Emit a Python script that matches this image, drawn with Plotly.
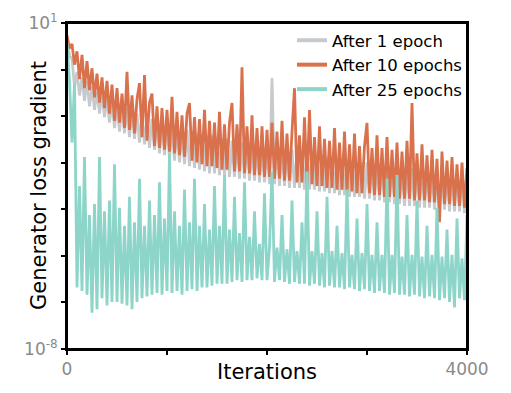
import plotly.graph_objects as go

# Iteration index of each sample (every 25 iterations, 0..4000)
iterations = list(range(0, 4001, 25))

# log10 of the generator loss gradient
log_grad_after_1_epoch = [
    0.60, 0.10, 0.00, -0.75, -0.35, -1.00, -0.50, -1.15, -0.60, -1.30,
    -0.75, -1.40, -0.90, -1.50, -0.95, -1.60, -1.10, -1.75, -1.15, -1.90,
    -1.25, -2.00, -1.30, -2.05, -1.35, -2.15, -1.40, -2.20, -1.50, -2.30,
    -1.55, -2.35, -1.60, -2.45, -1.65, -2.50, -1.70, -2.60, -1.75, -2.65,
    -1.80, -2.75, -1.85, -2.80, -1.90, -2.85, -1.95, -2.90, -1.95, -2.95,
    -2.00, -3.00, -2.05, -3.05, -2.05, -3.10, -2.10, -3.15, -2.10, -3.15,
    -2.15, -3.20, -2.20, -3.20, -2.20, -3.25, -2.25, -3.25, -2.25, -3.30,
    -2.30, -3.30, -2.30, -3.35, -2.35, -3.35, -2.35, -3.40, -2.40, -3.40,
    -2.40, -3.45, -0.52, -3.45, -2.45, -3.50, -2.45, -3.50, -2.50, -3.55,
    -2.50, -3.55, -2.55, -3.55, -2.55, -3.60, -2.60, -3.60, -2.60, -3.60,
    -2.65, -3.65, -2.65, -3.65, -2.70, -3.70, -2.70, -3.70, -2.75, -3.75,
    -2.75, -3.75, -2.80, -3.80, -2.80, -3.80, -2.85, -3.80, -2.85, -3.85,
    -2.85, -3.85, -2.90, -3.90, -2.90, -3.90, -2.90, -3.95, -2.95, -3.95,
    -2.95, -4.00, -2.95, -4.00, -3.00, -4.05, -3.00, -4.05, -3.00, -4.05,
    -3.05, -4.10, -3.05, -4.10, -3.05, -4.10, -3.10, -4.15, -3.10, -4.15,
    -3.10, -4.15, -3.15, -4.20, -3.15, -4.20, -3.15, -4.20, -3.20, -4.25,
    -3.20,
]

log_grad_after_10_epochs = [
    0.66, 0.30, 0.42, -0.15, 0.22, -0.55, 0.12, -0.80, -0.05, -0.85,
    -0.25, -1.05, -0.40, -1.20, -0.50, -1.35, -0.60, -1.50, -0.70, -1.70,
    -0.80, -1.75, -0.95, -1.90, -0.35, -1.95, -1.00, -2.05, -1.10, -0.66,
    -2.15, -0.44, -2.25, -1.20, -0.95, -2.40, -1.30, -2.45, -1.35, -2.50,
    -1.40, -2.55, -1.04, -2.60, -1.45, -2.65, -1.55, -2.70, -1.50, -1.21,
    -2.80, -1.60, -2.85, -1.65, -2.90, -1.40, -2.95, -1.70, -2.95, -1.75,
    -3.00, -1.45, -3.05, -1.80, -3.05, -1.75, -1.21, -3.10, -1.80, -3.10,
    -0.22, -3.15, -1.85, -3.15, -1.55, -3.20, -1.90, -3.20, -1.85, -3.25,
    -1.95, -3.25, -1.75, -3.30, -2.00, -3.30, -1.70, -3.35, -2.05, -3.35,
    -2.00, -0.80, -3.40, -2.10, -3.40, -1.60, -3.45, -1.40, -3.45, -2.15,
    -3.50, -1.85, -3.50, -2.20, -3.55, -2.25, -3.55, -1.90, -3.60, -2.30,
    -3.60, -2.00, -3.65, -2.35, -3.65, -2.05, -3.70, -2.40, -3.70, -2.40,
    -1.76, -3.70, -2.45, -3.75, -2.10, -3.75, -2.45, -3.80, -2.15, -3.80,
    -2.50, -3.80, -2.30, -3.85, -2.55, -3.85, -2.25, -3.85, -1.21, -3.90,
    -2.60, -3.90, -2.35, -3.90, -2.65, -3.95, -2.50, -3.95, -2.75, -4.50,
    -2.55, -4.00, -2.80, -4.00, -2.70, -4.05, -2.90, -4.05, -2.85, -4.10,
    -3.00,
]

log_grad_after_25_epochs = [
    0.45, -0.60, -2.30, -0.66, -6.30, -3.50, -6.40, -2.70, -6.50, -4.30,
    -7.00, -4.00, -6.90, -2.70, -6.60, -4.20, -6.80, -3.90, -6.70, -2.90,
    -6.70, -4.10, -6.75, -4.60, -6.80, -3.80, -6.90, -4.50, -6.70, -3.30,
    -6.60, -4.60, -6.55, -3.90, -6.50, -4.30, -6.45, -3.40, -6.50, -4.40,
    -6.40, -2.60, -6.45, -4.20, -6.40, -4.60, -6.50, -3.60, -6.40, -4.50,
    -6.35, -3.30, -6.40, -4.60, -6.30, -4.00, -6.30, -4.70, -6.25, -3.50,
    -6.20, -4.60, -6.20, -3.20, -6.20, -4.70, -6.15, -3.80, -6.10, -4.80,
    -6.15, -3.40, -6.10, -4.90, -6.10, -4.20, -6.05, -5.10, -6.10, -3.70,
    -6.10, -5.20, -3.10, -6.15, -5.20, -6.10, -4.30, -6.15, -5.25, -6.20,
    -3.90, -6.15, -5.30, -6.20, -4.50, -6.20, -3.10, -6.25, -5.30, -6.20,
    -4.20, -6.25, -5.35, -6.30, -3.80, -6.25, -5.30, -6.30, -4.60, -6.30,
    -5.35, -6.35, -3.60, -6.30, -5.40, -6.35, -4.40, -6.40, -5.35, -6.35,
    -4.00, -6.40, -5.40, -6.45, -4.50, -6.40, -5.40, -6.45, -3.30, -6.50,
    -5.40, -6.45, -3.20, -6.50, -5.45, -6.50, -4.30, -6.55, -5.40, -6.50,
    -3.90, -6.55, -5.45, -6.60, -4.60, -6.55, -5.40, -6.60, -4.10, -6.65,
    -5.45, -6.60, -4.70, -6.70, -5.40, -6.85, -4.40, -6.60, -5.50, -6.65,
    -4.30,
]

series_names = ["After 1 epoch", "After 10 epochs", "After 25 epochs"]
series_colors = ["#c6cacd", "#d9724c", "#8dd5c9"]
series_logs = [log_grad_after_1_epoch, log_grad_after_10_epochs, log_grad_after_25_epochs]

x_tick_values = [0, 1000, 2000, 3000, 4000]
x_tick_labels = ["0", "", "", "", "4000"]
y_tick_exponents = [-8, -8 + 9 / 7, -8 + 18 / 7, -8 + 27 / 7, -8 + 36 / 7, -8 + 45 / 7, -8 + 54 / 7, 1]
y_tick_labels = ["10<sup>-8</sup>", "", "", "", "", "", "", "10<sup>1</sup>"]

FONT = "'DejaVu Sans', sans-serif"
GREY = "#8a8a8a"

fig = go.Figure()
for name, color, logs in zip(series_names, series_colors, series_logs):
    fig.add_trace(go.Scatter(
        x=iterations,
        y=[10 ** v for v in logs],
        mode="lines",
        name=name,
        showlegend=False,
        line=dict(color=color, width=2.8),
    ))
# legend keys (short thick sample lines, as in the reference)
for name, color in zip(series_names, series_colors):
    fig.add_trace(go.Scatter(
        x=[None], y=[None], mode="lines", name=name,
        line=dict(color=color, width=4),
        showlegend=True,
    ))

axis_common = dict(
    ticks="outside",
    ticklen=4,
    tickwidth=1.5,
    tickcolor="black",
    tickfont=dict(family=FONT, size=17, color=GREY),
    ticklabeloverflow="allow",
    automargin=False,
    showline=True,
    linecolor="black",
    linewidth=2,
    mirror=True,
    showgrid=False,
    zeroline=False,
)

fig.update_layout(
    width=511,
    height=393,
    margin=dict(l=67, r=44, t=23, b=44),
    paper_bgcolor="white",
    plot_bgcolor="white",
    font=dict(family=FONT, color="black"),
    showlegend=True,
    legend=dict(
        x=1.0, xanchor="right", y=1.0, yanchor="top",
        bgcolor="rgba(0,0,0,0)",
        font=dict(family=FONT, size=16.5, color="black"),
        tracegroupgap=0,
        itemwidth=30,
    ),
    xaxis=dict(range=[0, 4000], tickvals=x_tick_values, ticktext=x_tick_labels, **axis_common),
    yaxis=dict(type="log", range=[-8, 1],
               tickvals=[10 ** e for e in y_tick_exponents], ticktext=y_tick_labels,
               **axis_common),
    shapes=[
        dict(type="rect", xref="paper", yref="paper", x0=0, x1=1, y0=0, y1=1,
             line=dict(color="black", width=2), fillcolor="rgba(0,0,0,0)", layer="above"),
    ],
    annotations=[
        dict(text="Iterations", xref="paper", yref="paper", x=0.5, y=-0.0706,
             xanchor="center", yanchor="middle", showarrow=False,
             font=dict(family=FONT, size=21, color="black")),
        dict(text="Generator loss gradient", xref="paper", yref="paper", x=-0.07, y=0.5,
             xanchor="center", yanchor="middle", showarrow=False, textangle=-90,
             font=dict(family=FONT, size=21, color="black")),
    ],
)

fig.write_html(
    "out.html",
    config={"displayModeBar": False},
    post_script="document.body.style.margin='0';document.body.style.overflow='hidden';",
)
